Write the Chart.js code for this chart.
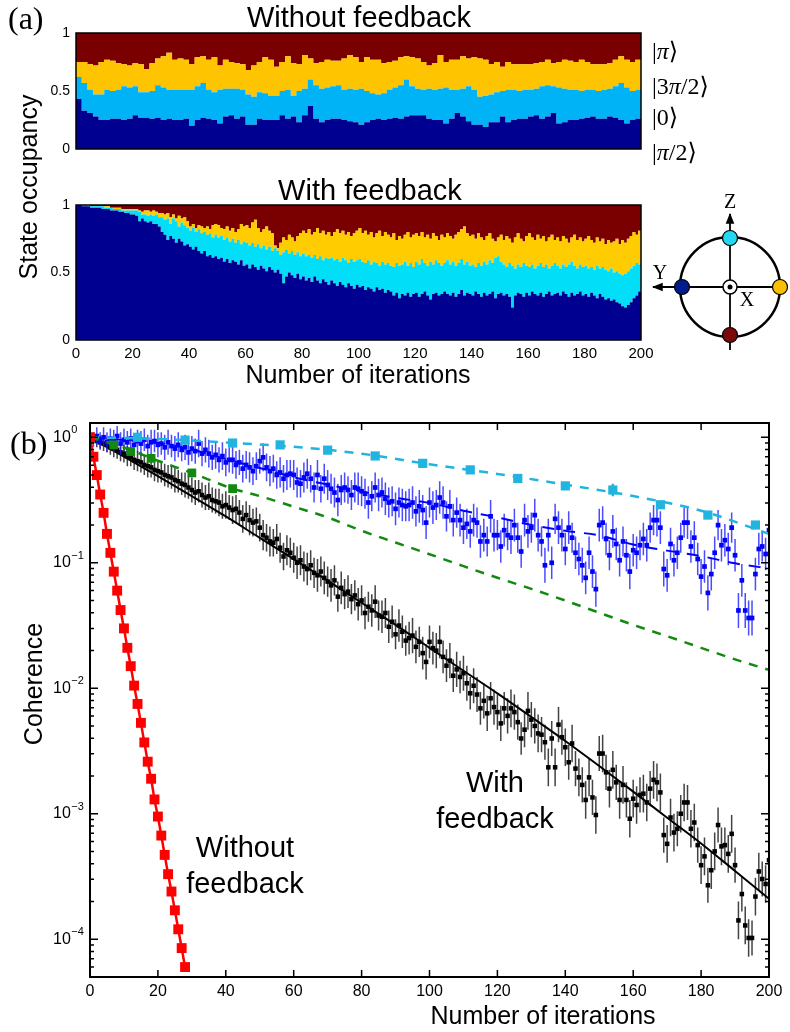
<!DOCTYPE html>
<html>
<head>
<meta charset="utf-8">
<script src="https://cdn.jsdelivr.net/npm/chart.js@4.4.0/dist/chart.umd.min.js"></script>
<style>
  body { margin: 0; background: #fff; }
  #page { position: relative; width: 790px; height: 1032px; overflow: hidden; font-family: "Liberation Sans", Arial, sans-serif; color: #000; }
  canvas { position: absolute; }
  .lbl { position: absolute; white-space: nowrap; line-height: 1; }
  .serif { font-family: "Liberation Serif", "DejaVu Serif", serif; }
  .rot { transform: translate(-50%, -50%) rotate(-90deg); }
  .note { position: absolute; width: 200px; text-align: center; font-size: 29px; line-height: 36px; }
</style>
</head>
<body>
<div id="page">
  <canvas id="noFbChart" width="660" height="180" style="left:0;top:0"></canvas>
  <canvas id="fbChart" width="660" height="180" style="left:0;top:190px"></canvas>
  <canvas id="cohChart" width="790" height="632" style="left:0;top:400px"></canvas>

  <div class="lbl serif" style="left:8px;top:2px;font-size:32px">(a)</div>
  <div class="lbl" style="left:359px;top:3px;font-size:29px;transform:translateX(-50%)">Without feedback</div>
  <div class="lbl" style="left:370px;top:176px;font-size:29px;transform:translateX(-50%)">With feedback</div>
  <div class="lbl" style="left:358px;top:362px;font-size:25px;transform:translateX(-50%)">Number of iterations</div>
  <div class="lbl rot" style="left:28px;top:187px;font-size:25px">State occupancy</div>

  <div class="lbl serif" style="left:652px;top:39px;font-size:24px">|<i>π</i>⟩</div>
  <div class="lbl serif" style="left:652px;top:74px;font-size:24px">|3<i>π</i>/2⟩</div>
  <div class="lbl serif" style="left:652px;top:105px;font-size:24px">|0⟩</div>
  <div class="lbl serif" style="left:652px;top:140px;font-size:24px">|<i>π</i>/2⟩</div>

  <div class="lbl serif" style="left:10px;top:427px;font-size:32px">(b)</div>
  <div class="lbl rot" style="left:33px;top:684px;font-size:25px">Coherence</div>
  <div class="lbl" style="left:543px;top:1003px;font-size:25px;transform:translateX(-50%)">Number of iterations</div>
  <div class="note" style="left:395px;top:764px">With<br>feedback</div>
  <div class="note" style="left:145px;top:829px">Without<br>feedback</div>

  <svg width="790" height="400" style="position:absolute;left:0;top:0">
    <defs>
      <marker id="ah" viewBox="0 0 10 10" refX="9" refY="5" markerWidth="6" markerHeight="6" orient="auto">
        <path d="M0,1 L10,5 L0,9 z" fill="#000"/>
      </marker>
    </defs>
    <circle cx="730" cy="287" r="50" fill="none" stroke="#000" stroke-width="2.5"/>
    <line x1="730" y1="350" x2="730" y2="214" stroke="#000" stroke-width="1.8" marker-end="url(#ah)"/>
    <line x1="788" y1="287" x2="653" y2="287" stroke="#000" stroke-width="1.8" marker-end="url(#ah)"/>
    <circle cx="730" cy="287" r="7" fill="#fff" stroke="#000" stroke-width="1.5"/>
    <circle cx="730" cy="287" r="2.5" fill="#000"/>
    <circle cx="730" cy="238" r="7.5" fill="#22d8f2" stroke="#000" stroke-width="1.2"/>
    <circle cx="780" cy="287" r="7.5" fill="#f8c000" stroke="#000" stroke-width="1.2"/>
    <circle cx="682" cy="287" r="7.5" fill="#001c8c" stroke="#000" stroke-width="1.2"/>
    <circle cx="730" cy="335" r="7.5" fill="#7a0a0a" stroke="#000" stroke-width="1.2"/>
    <text x="730" y="208" font-family="Liberation Serif, serif" font-size="20" text-anchor="middle">Z</text>
    <text x="660" y="279" font-family="Liberation Serif, serif" font-size="20" text-anchor="middle">Y</text>
    <text x="747" y="306" font-family="Liberation Serif, serif" font-size="20" text-anchor="middle">X</text>
  </svg>
</div>

<script>
// ---------- panel (a): cumulative state occupancy ----------
// each array is the top edge of a band; |pi> (dark red) fills up to 1
const noFbBinWidth = 2;
const noFbPiHalf = [
  0.43,0.33,0.31,0.28,0.25,0.25,0.26,0.26,0.25,0.26, 0.29,0.27,0.27,0.26,0.27,0.25,0.26,0.25,0.25,0.26,
  0.20,0.25,0.27,0.26,0.25,0.22,0.28,0.29,0.26,0.28, 0.21,0.21,0.26,0.25,0.25,0.25,0.29,0.26,0.28,0.23,
  0.29,0.37,0.26,0.23,0.25,0.26,0.26,0.25,0.24,0.23, 0.21,0.23,0.25,0.26,0.25,0.26,0.27,0.26,0.28,0.29,
  0.29,0.29,0.26,0.25,0.25,0.22,0.26,0.31,0.28,0.24, 0.21,0.21,0.19,0.23,0.23,0.28,0.23,0.25,0.26,0.26,
  0.28,0.29,0.26,0.28,0.31,0.22,0.23,0.25,0.25,0.26, 0.27,0.28,0.26,0.26,0.28,0.27,0.25,0.22,0.25,0.26
];
const noFbZero = [
  0.62,0.57,0.51,0.47,0.47,0.51,0.50,0.51,0.54,0.53, 0.54,0.49,0.49,0.50,0.55,0.53,0.51,0.51,0.51,0.51,
  0.51,0.54,0.57,0.51,0.49,0.51,0.52,0.52,0.52,0.51, 0.47,0.45,0.49,0.48,0.46,0.46,0.50,0.51,0.46,0.50,
  0.52,0.60,0.55,0.52,0.53,0.54,0.55,0.51,0.52,0.51, 0.52,0.50,0.48,0.47,0.48,0.51,0.53,0.55,0.60,0.54,
  0.52,0.51,0.52,0.51,0.52,0.53,0.51,0.51,0.52,0.54, 0.51,0.45,0.46,0.47,0.49,0.50,0.51,0.51,0.50,0.51,
  0.51,0.52,0.54,0.55,0.54,0.53,0.52,0.51,0.51,0.50, 0.51,0.51,0.50,0.51,0.52,0.54,0.57,0.53,0.50,0.51
];
const noFbThreePiHalf = [
  0.75,0.75,0.73,0.72,0.75,0.77,0.76,0.74,0.73,0.72, 0.74,0.73,0.69,0.74,0.78,0.80,0.83,0.77,0.78,0.77,
  0.73,0.79,0.80,0.77,0.79,0.72,0.77,0.75,0.74,0.73, 0.68,0.72,0.75,0.79,0.77,0.71,0.75,0.80,0.74,0.73,
  0.81,0.78,0.74,0.75,0.77,0.76,0.76,0.78,0.81,0.79, 0.75,0.79,0.77,0.77,0.74,0.75,0.76,0.79,0.80,0.79,
  0.78,0.75,0.72,0.74,0.81,0.75,0.77,0.77,0.80,0.78, 0.79,0.78,0.77,0.73,0.75,0.71,0.75,0.73,0.73,0.73,
  0.73,0.74,0.75,0.77,0.74,0.75,0.77,0.76,0.75,0.77, 0.75,0.73,0.73,0.73,0.74,0.77,0.80,0.77,0.75,0.77
];

const fbBinWidth = 1;
const fbPiHalf = [
  1.00,1.00,0.99,0.99,0.99,0.98,0.98,0.98,0.98,0.97, 0.97,0.97,0.96,0.96,0.96,0.95,0.95,0.94,0.94,0.93,
  0.93,0.92,0.88,0.90,0.88,0.87,0.88,0.86,0.86,0.84, 0.80,0.78,0.74,0.77,0.75,0.72,0.75,0.73,0.70,0.71,
  0.69,0.67,0.69,0.66,0.64,0.66,0.62,0.63,0.61,0.62, 0.60,0.61,0.58,0.60,0.57,0.59,0.58,0.56,0.59,0.55,
  0.56,0.53,0.56,0.54,0.52,0.55,0.53,0.51,0.54,0.52, 0.50,0.52,0.49,0.42,0.47,0.50,0.48,0.46,0.49,0.45,
  0.47,0.44,0.46,0.43,0.47,0.44,0.42,0.45,0.43,0.41, 0.44,0.42,0.40,0.43,0.41,0.39,0.42,0.40,0.38,0.41,
  0.39,0.40,0.37,0.39,0.38,0.36,0.39,0.37,0.38,0.35, 0.37,0.36,0.33,0.35,0.31,0.34,0.33,0.35,0.32,0.34,
  0.35,0.32,0.34,0.36,0.33,0.30,0.34,0.35,0.33,0.34, 0.36,0.34,0.33,0.35,0.32,0.34,0.37,0.33,0.35,0.34,
  0.33,0.36,0.34,0.32,0.35,0.33,0.34,0.36,0.31,0.34, 0.35,0.33,0.34,0.32,0.24,0.33,0.35,0.34,0.32,0.35,
  0.33,0.36,0.34,0.33,0.35,0.32,0.34,0.36,0.33,0.34, 0.35,0.33,0.36,0.34,0.32,0.35,0.33,0.34,0.36,0.33,
  0.34,0.32,0.35,0.33,0.31,0.34,0.32,0.30,0.31,0.29, 0.30,0.28,0.27,0.25,0.24,0.26,0.28,0.31,0.33,0.36
];
const fbZero = [
  1.00,1.00,1.00,1.00,0.99,0.99,0.99,0.99,0.99,0.99, 0.98,0.98,0.98,0.97,0.97,0.97,0.96,0.96,0.96,0.96,
  0.96,0.96,0.95,0.93,0.93,0.92,0.93,0.92,0.93,0.91, 0.91,0.89,0.90,0.86,0.90,0.88,0.84,0.87,0.85,0.83,
  0.81,0.83,0.80,0.82,0.79,0.80,0.78,0.79,0.76,0.78, 0.76,0.77,0.74,0.76,0.73,0.75,0.72,0.74,0.71,0.73,
  0.72,0.70,0.72,0.69,0.71,0.68,0.70,0.67,0.69,0.66, 0.68,0.66,0.63,0.65,0.67,0.64,0.66,0.63,0.65,0.62,
  0.64,0.62,0.63,0.61,0.63,0.60,0.62,0.59,0.61,0.60, 0.61,0.59,0.60,0.58,0.61,0.59,0.57,0.60,0.58,0.59,
  0.60,0.58,0.57,0.59,0.56,0.58,0.57,0.55,0.58,0.56, 0.57,0.55,0.54,0.57,0.55,0.56,0.58,0.55,0.57,0.54,
  0.58,0.56,0.60,0.57,0.55,0.58,0.56,0.59,0.57,0.55, 0.57,0.59,0.56,0.58,0.55,0.57,0.60,0.56,0.58,0.55,
  0.56,0.54,0.57,0.55,0.58,0.56,0.59,0.57,0.61,0.62, 0.58,0.56,0.54,0.57,0.55,0.53,0.56,0.54,0.57,0.55,
  0.54,0.56,0.53,0.55,0.57,0.54,0.56,0.53,0.55,0.57, 0.55,0.53,0.56,0.54,0.56,0.58,0.55,0.53,0.56,0.54,
  0.55,0.53,0.54,0.52,0.55,0.53,0.54,0.52,0.51,0.53, 0.50,0.51,0.49,0.48,0.49,0.51,0.53,0.55,0.57,0.56
];
const fbThreePiHalf = [
  1.00,1.00,1.00,1.00,1.00,0.99,0.99,0.99,0.99,0.99, 0.99,0.99,0.98,0.98,0.98,0.98,0.97,0.97,0.97,0.97,
  0.97,0.97,0.96,0.95,0.96,0.96,0.95,0.96,0.95,0.94, 0.94,0.93,0.94,0.91,0.93,0.90,0.92,0.90,0.91,0.88,
  0.84,0.86,0.83,0.85,0.84,0.83,0.84,0.82,0.85,0.86, 0.85,0.83,0.82,0.84,0.81,0.83,0.80,0.82,0.86,0.84,
  0.85,0.83,0.87,0.89,0.83,0.80,0.82,0.84,0.81,0.79, 0.70,0.68,0.72,0.76,0.74,0.78,0.76,0.73,0.77,0.79,
  0.81,0.79,0.82,0.78,0.80,0.83,0.79,0.81,0.78,0.80, 0.77,0.80,0.82,0.79,0.81,0.78,0.80,0.77,0.79,0.81,
  0.83,0.79,0.81,0.78,0.80,0.76,0.79,0.81,0.77,0.80, 0.78,0.76,0.79,0.74,0.77,0.75,0.78,0.80,0.76,0.78,
  0.79,0.77,0.80,0.76,0.78,0.75,0.79,0.77,0.74,0.78, 0.76,0.79,0.77,0.75,0.78,0.80,0.82,0.84,0.79,0.77,
  0.78,0.75,0.79,0.76,0.74,0.77,0.79,0.75,0.73,0.76, 0.78,0.74,0.77,0.75,0.72,0.76,0.79,0.75,0.73,0.77,
  0.79,0.76,0.74,0.78,0.75,0.77,0.73,0.76,0.78,0.74, 0.76,0.73,0.77,0.75,0.72,0.76,0.78,0.74,0.76,0.73,
  0.75,0.77,0.74,0.72,0.76,0.73,0.75,0.71,0.74,0.72, 0.73,0.75,0.71,0.74,0.72,0.75,0.77,0.80,0.78,0.81
];
const occTickStep = 0.5;
const iterTicks = [0, 20, 40, 60, 80, 100, 120, 140, 160, 180, 200];

// ---------- panel (b): coherence ----------
// data points with error bars are kept as log10 values (+/- half width in decades)
const blackLog = [
  0.00,
  -0.01,-0.03,-0.04,-0.05,-0.06,-0.08,-0.09,-0.10,-0.12,-0.13, -0.15,-0.16,-0.18,-0.19,-0.20,-0.22,-0.23,-0.24,-0.26,-0.27,
  -0.28,-0.30,-0.31,-0.32,-0.34,-0.35,-0.37,-0.38,-0.40,-0.42, -0.44,-0.43,-0.46,-0.48,-0.47,-0.50,-0.51,-0.52,-0.55,-0.54,
  -0.56,-0.58,-0.57,-0.60,-0.65,-0.62,-0.66,-0.68,-0.67,-0.72, -0.78,-0.80,-0.83,-0.84,-0.81,-0.88,-0.95,-0.90,-0.92,-0.96,
  -1.00,-0.98,-1.03,-1.05,-1.02,-1.08,-1.10,-1.07,-1.12,-1.15, -1.18,-1.14,-1.27,-1.20,-1.25,-1.23,-1.29,-1.26,-1.33,-1.30,
  -1.40,-1.35,-1.38,-1.31,-1.42,-1.43,-1.40,-1.51,-1.47,-1.57, -1.50,-1.55,-1.62,-1.60,-1.58,-1.67,-1.63,-1.72,-1.79,-1.63,
  -1.68,-1.70,-1.63,-1.75,-1.82,-1.78,-1.90,-1.85,-1.91,-1.88, -1.96,-2.04,-1.98,-2.05,-2.16,-2.10,-2.20,-2.08,-2.15,-2.19,
  -2.28,-2.16,-2.22,-2.16,-2.19,-2.27,-2.40,-2.33,-2.18,-2.25, -2.30,-2.36,-2.37,-2.43,-2.63,-2.40,-2.63,-2.29,-2.39,-2.47,
  -2.59,-2.44,-2.64,-2.71,-2.77,-2.89,-2.71,-2.87,-3.01,-2.52, -2.52,-2.67,-2.80,-2.65,-2.75,-2.89,-2.77,-2.89,-3.04,-2.88,
  -2.93,-2.85,-2.84,-2.91,-2.80,-2.73,-2.75,-2.83,-3.17,-3.24, -3.03,-3.15,-3.12,-3.00,-2.91,-2.91,-3.12,-3.07,-3.25,-3.41,
  -3.34,-3.57,-3.45,-3.30,-3.09,-3.26,-3.25,-3.32,-3.16,-3.41, -3.85,-3.64,-3.89,-3.99,-3.99,-3.66,-3.46,-3.52,-3.56,-3.37
];
const blackErr = [
  0.03,
  0.04,0.05,0.05,0.06,0.06,0.06,0.07,0.07,0.07,0.07, 0.08,0.07,0.08,0.08,0.08,0.08,0.09,0.08,0.09,0.09,
  0.08,0.09,0.09,0.09,0.10,0.09,0.09,0.10,0.09,0.10, 0.10,0.09,0.10,0.10,0.11,0.10,0.10,0.11,0.10,0.11,
  0.10,0.11,0.11,0.10,0.11,0.11,0.12,0.11,0.11,0.11, 0.12,0.11,0.12,0.11,0.12,0.12,0.11,0.12,0.12,0.12,
  0.13,0.12,0.12,0.13,0.12,0.12,0.13,0.12,0.13,0.12, 0.13,0.12,0.12,0.13,0.12,0.13,0.12,0.12,0.13,0.12,
  0.13,0.12,0.13,0.13,0.12,0.13,0.12,0.13,0.13,0.12, 0.13,0.13,0.12,0.13,0.14,0.13,0.12,0.13,0.14,0.13,
  0.13,0.14,0.13,0.13,0.13,0.14,0.13,0.14,0.13,0.14, 0.14,0.13,0.14,0.14,0.13,0.14,0.14,0.13,0.14,0.14,
  0.14,0.13,0.14,0.15,0.14,0.14,0.13,0.14,0.15,0.14, 0.14,0.15,0.14,0.14,0.15,0.14,0.15,0.14,0.14,0.15,
  0.14,0.15,0.14,0.15,0.14,0.15,0.15,0.14,0.15,0.14, 0.15,0.14,0.15,0.15,0.14,0.15,0.15,0.14,0.15,0.15,
  0.15,0.14,0.15,0.15,0.14,0.15,0.15,0.15,0.14,0.15, 0.15,0.15,0.14,0.15,0.15,0.14,0.15,0.15,0.14,0.15,
  0.15,0.14,0.15,0.15,0.14,0.15,0.14,0.15,0.15,0.14, 0.15,0.14,0.15,0.15,0.14,0.15,0.15,0.14,0.15,0.15
];
const blueLog = [
  0.00,
  -0.02,0.01,-0.03,0.00,-0.04,-0.01,-0.03,0.01,-0.05,-0.02, -0.04,-0.01,-0.06,-0.03,-0.05,-0.02,-0.07,-0.04,-0.03,-0.06,
  -0.05,-0.08,-0.04,-0.07,-0.09,-0.06,-0.10,-0.08,-0.12,-0.09, -0.11,-0.05,-0.13,-0.10,-0.13,-0.16,-0.14,-0.18,-0.15,-0.20,
  -0.18,-0.18,-0.22,-0.20,-0.25,-0.22,-0.24,-0.27,-0.23,-0.19, -0.16,-0.24,-0.27,-0.25,-0.30,-0.28,-0.33,-0.30,-0.29,-0.30,
  -0.36,-0.37,-0.32,-0.29,-0.33,-0.40,-0.30,-0.41,-0.33,-0.38, -0.41,-0.44,-0.50,-0.42,-0.40,-0.42,-0.46,-0.40,-0.41,-0.43,
  -0.45,-0.52,-0.47,-0.40,-0.46,-0.44,-0.49,-0.52,-0.51,-0.57, -0.52,-0.54,-0.55,-0.54,-0.52,-0.59,-0.55,-0.58,-0.68,-0.52,
  -0.56,-0.54,-0.48,-0.52,-0.63,-0.55,-0.66,-0.60,-0.66,-0.72, -0.69,-0.75,-0.66,-0.68,-0.83,-0.78,-0.83,-0.63,-0.78,-0.78,
  -0.87,-0.74,-0.78,-0.80,-0.70,-0.80,-0.91,-0.66,-0.75,-0.72, -0.62,-0.78,-0.83,-1.02,-0.78,-1.00,-0.65,-0.72,-0.78,-0.89,
  -0.72,-0.80,-0.92,-0.97,-1.02,-1.12,-0.92,-1.07,-1.21,-0.70, -0.68,-0.81,-0.94,-0.75,-0.85,-0.98,-0.83,-0.94,-1.07,-0.90,
  -0.92,-0.86,-0.81,-0.86,-0.72,-0.66,-0.66,-0.72,-1.05,-1.10, -0.85,-0.98,-0.92,-0.80,-0.68,-0.68,-0.87,-0.80,-0.97,-1.11,
  -1.03,-1.24,-1.09,-0.92,-0.70,-0.86,-0.82,-0.89,-0.72,-0.94, -1.38,-1.14,-1.38,-1.44,-1.44,-1.09,-0.89,-0.87,-0.93,-0.74
];
const blueErr = [
  0.05,
  0.06,0.07,0.07,0.08,0.08,0.08,0.09,0.08,0.09,0.09, 0.09,0.08,0.09,0.09,0.10,0.09,0.09,0.10,0.09,0.10,
  0.09,0.10,0.10,0.09,0.10,0.10,0.09,0.10,0.10,0.10, 0.10,0.11,0.10,0.10,0.11,0.10,0.11,0.10,0.11,0.11,
  0.10,0.11,0.11,0.10,0.11,0.11,0.12,0.11,0.11,0.10, 0.11,0.11,0.12,0.11,0.11,0.12,0.11,0.12,0.11,0.12,
  0.12,0.11,0.12,0.12,0.11,0.12,0.12,0.11,0.12,0.12, 0.12,0.12,0.13,0.12,0.12,0.11,0.12,0.12,0.13,0.12,
  0.12,0.13,0.12,0.12,0.13,0.12,0.13,0.12,0.12,0.13, 0.12,0.13,0.12,0.13,0.13,0.12,0.13,0.12,0.13,0.12,
  0.13,0.12,0.13,0.13,0.12,0.13,0.13,0.12,0.13,0.13, 0.12,0.13,0.13,0.12,0.13,0.13,0.12,0.13,0.13,0.12,
  0.13,0.13,0.12,0.13,0.13,0.12,0.13,0.13,0.13,0.12, 0.13,0.13,0.12,0.14,0.13,0.13,0.12,0.13,0.13,0.13,
  0.13,0.12,0.13,0.13,0.14,0.13,0.13,0.13,0.14,0.13, 0.13,0.13,0.12,0.13,0.13,0.13,0.12,0.13,0.14,0.13,
  0.13,0.12,0.13,0.13,0.12,0.12,0.13,0.13,0.14,0.13, 0.13,0.13,0.13,0.12,0.12,0.13,0.13,0.13,0.13,0.14,
  0.13,0.14,0.13,0.13,0.12,0.13,0.13,0.13,0.12,0.13, 0.14,0.13,0.14,0.14,0.14,0.13,0.13,0.12,0.13,0.13
];

// fit / model curves and sparse data, plain coherence values
const blackFitX = [0, 10, 20, 30, 40, 50, 60, 70, 80, 90, 100, 110, 120, 130, 140, 150, 160, 170, 180, 190, 200];
const blackFit = [1.0, 0.70, 0.49, 0.34, 0.234, 0.158, 0.107, 0.072, 0.048, 0.032, 0.021,
                  0.0138, 0.0091, 0.0059, 0.0038, 0.0024, 0.0015, 0.00093, 0.00058, 0.00035, 0.00021];
const blueTrendX = [0, 10, 20, 30, 40, 50, 60, 70, 80, 90, 100, 110, 120, 130, 140, 150, 160, 170, 180, 190, 200];
const blueTrend = [1.0, 0.95, 0.90, 0.80, 0.67, 0.57, 0.48, 0.42, 0.37, 0.33, 0.30,
                   0.26, 0.23, 0.20, 0.18, 0.165, 0.14, 0.125, 0.113, 0.099, 0.09];
const cyanX = [0, 14, 28, 42, 56, 70, 84, 98, 112, 126, 140, 154, 168, 182, 196];
const cyanVals = [1.0, 1.0, 0.95, 0.90, 0.87, 0.79, 0.71, 0.62, 0.55, 0.47, 0.41, 0.38, 0.29, 0.24, 0.20];
const cyanErr = [0.01, 0.01, 0.01, 0.01, 0.01, 0.01, 0.01, 0.01, 0.01, 0.01, 0.02, 0.05, 0.03, 0.02, 0.03];
const cyanLineX = [0, 20, 40, 60, 80, 100, 120, 140, 160, 180, 200];
const cyanLine = [1.0, 0.97, 0.91, 0.84, 0.74, 0.61, 0.51, 0.42, 0.34, 0.26, 0.17];
const greenX = [0, 7, 12, 18, 30, 42];
const greenVals = [1.0, 0.87, 0.77, 0.68, 0.52, 0.39];
const greenLineX = [0, 10, 20, 30, 42, 50, 60, 70, 80, 90, 100, 110, 120, 130, 140, 150, 160, 170, 180, 190, 200];
const greenLine = [1.0, 0.83, 0.65, 0.52, 0.39, 0.34, 0.28, 0.23, 0.18, 0.145, 0.117,
                   0.094, 0.076, 0.062, 0.05, 0.04, 0.032, 0.026, 0.021, 0.017, 0.014];
const redX = [0, 1, 2, 3, 4, 5, 6, 7, 8, 9, 10, 11, 12, 13, 14, 15, 16, 17, 18, 19, 20, 21, 22, 23, 24, 25, 26, 27, 28];
const redVals = [1.0, 0.70, 0.50, 0.35, 0.25, 0.17, 0.12, 0.085, 0.060, 0.042, 0.030, 0.021, 0.015, 0.0105, 0.0075,
                 0.0053, 0.0037, 0.0026, 0.0019, 0.0013, 0.00095, 0.00067, 0.00047, 0.00033, 0.00024, 0.00017,
                 0.00012, 0.000085, 0.00006];
const cohMin = 5e-5;
const cohMax = 1.3;
const cohTickExps = [0, -1, -2, -3, -4];

const FONT = '"Liberation Sans", Arial, sans-serif';
Chart.defaults.font.family = FONT;
Chart.defaults.color = '#000';

const baseOptions = {
    responsive: false,
    animation: false,
    devicePixelRatio: 1,
    events: [],
    plugins: { legend: { display: false }, tooltip: { enabled: false } }
};

// Helper: histogram bins as a stepped line (value i holds from bin start to next bin)
function stepData(vals, w) {
    const pts = vals.map((v, i) => ({ x: i * w, y: v }));
    pts.push({ x: vals.length * w, y: vals[vals.length - 1] });
    return pts;
}

function occupancyDatasets(piHalf, zero, threePiHalf, w, colors) {
    const base = { stepped: 'before', pointRadius: 0, borderWidth: 0, borderColor: 'transparent' };
    return [
        { ...base, data: stepData(piHalf, w), backgroundColor: colors[0], fill: 'origin' },
        { ...base, data: stepData(zero, w), backgroundColor: colors[1], fill: '-1' },
        { ...base, data: stepData(threePiHalf, w), backgroundColor: colors[2], fill: '-1' },
        { ...base, data: stepData(threePiHalf, w), backgroundColor: colors[3], fill: 'end' }
    ];
}

const boxFrame = {
    id: 'boxFrame',
    afterDatasetsDraw(chart, args, opts) {
        const { ctx, chartArea: a } = chart;
        ctx.save();
        ctx.strokeStyle = '#000';
        ctx.lineWidth = opts.width || 1;
        ctx.strokeRect(a.left, a.top, a.right - a.left, a.bottom - a.top);
        ctx.restore();
    }
};

function occupancyChart(id, datasets, showX, padding) {
    return new Chart(document.getElementById(id), {
        type: 'line',
        data: { datasets: datasets },
        plugins: [boxFrame],
        options: {
            ...baseOptions,
            layout: { padding: padding },
            plugins: { ...baseOptions.plugins, boxFrame: { width: 1.5 } },
            scales: {
                x: {
                    type: 'linear', min: 0, max: 200, display: showX,
                    grid: { display: false, drawTicks: false },
                    border: { display: false },
                    ticks: { stepSize: 20, padding: 5, maxRotation: 0, font: { size: 15 } },
                    afterFit: (s) => { s.height = 22; }
                },
                y: {
                    min: 0, max: 1,
                    grid: { display: false, drawTicks: false },
                    border: { display: false },
                    ticks: { stepSize: occTickStep, padding: 6, font: { size: 14 },
                             callback: (v) => String(v) },
                    afterFit: (s) => { s.width = 76; }
                }
            }
        }
    });
}

occupancyChart('noFbChart',
    occupancyDatasets(noFbPiHalf, noFbZero, noFbThreePiHalf, noFbBinWidth,
        ['#000090', '#00b2f6', '#ffc400', '#7a0000']),
    false, { left: 0, top: 33, right: 19, bottom: 9 });

occupancyChart('fbChart',
    occupancyDatasets(fbPiHalf, fbZero, fbThreePiHalf, fbBinWidth,
        ['#000090', '#00def8', '#ffcc00', '#7a0000']),
    true, { left: 0, top: 15, right: 19, bottom: 8 });

// ---------- panel (b) ----------
function xy(xs, ys) {
    return ys.map((v, i) => ({ x: xs[i], y: v }));
}
function fromLog(vals) {
    return vals.map((v, i) => ({ x: i, y: Math.pow(10, v) }));
}
// vertical error bars as separate segments (null breaks the line)
function errorSegments(xs, logs, errs) {
    const pts = [];
    logs.forEach((v, i) => {
        pts.push({ x: xs[i], y: Math.pow(10, v - errs[i]) });
        pts.push({ x: xs[i], y: Math.pow(10, v + errs[i]) });
        pts.push({ x: xs[i], y: null });
    });
    return pts;
}
const blackX = blackLog.map((v, i) => i);
const blueX = blueLog.map((v, i) => i);
const cyanLog = cyanVals.map(v => Math.log10(v));

const logFrame = {
    id: 'logFrame',
    afterDatasetsDraw(chart) {
        const { ctx, chartArea: a, scales: { x, y } } = chart;
        ctx.save();
        ctx.strokeStyle = '#000';
        ctx.lineWidth = 1.5;
        ctx.beginPath();
        iterTicks.forEach(v => {
            const px = x.getPixelForValue(v);
            ctx.moveTo(px, a.bottom); ctx.lineTo(px, a.bottom - 7);
            ctx.moveTo(px, a.top); ctx.lineTo(px, a.top + 7);
        });
        for (let e = -5; e <= 0; e++) {
            for (let m = 1; m <= 9; m++) {
                const v = m * Math.pow(10, e);
                if (v < cohMin || v > cohMax) continue;
                const py = y.getPixelForValue(v);
                const len = m === 1 ? 8 : 4;
                ctx.moveTo(a.left, py); ctx.lineTo(a.left + len, py);
                ctx.moveTo(a.right, py); ctx.lineTo(a.right - len, py);
            }
        }
        ctx.stroke();
        ctx.lineWidth = 2;
        ctx.strokeRect(a.left, a.top, a.right - a.left, a.bottom - a.top);

        // decade labels 10^n
        ctx.fillStyle = '#000';
        ctx.textAlign = 'left';
        ctx.textBaseline = 'middle';
        cohTickExps.forEach(p => {
            const py = y.getPixelForValue(Math.pow(10, p));
            ctx.font = '16px ' + FONT;
            ctx.fillText('10', 53, py);
            const w = ctx.measureText('10').width;
            ctx.font = '11px ' + FONT;
            ctx.fillText(p === 0 ? '0' : '\u2212' + (-p), 53 + w + 0.5, py - 7);
        });
        ctx.restore();
    }
};

const pts = (color, r) => ({
    showLine: false, pointStyle: 'rect', pointRadius: r,
    pointBackgroundColor: color, pointBorderWidth: 0, borderColor: color
});
const bars = (color) => ({
    pointRadius: 0, borderColor: color, borderWidth: 1.5, spanGaps: false, borderCapStyle: 'butt'
});
const curve = (color, width, dash) => ({
    pointRadius: 0, borderColor: color, borderWidth: width, borderDash: dash || [], cubicInterpolationMode: 'monotone'
});

new Chart(document.getElementById('cohChart'), {
    type: 'line',
    data: {
        datasets: [
            { ...curve('#ff0000', 2.5), data: xy(redX, redVals), pointStyle: 'rect', pointRadius: 7,
              pointBackgroundColor: '#ff0000', pointBorderWidth: 0 },
            { ...pts('#128a12', 6.2), data: xy(greenX, greenVals) },
            { ...curve('#128a12', 2.5, [9, 8]), data: xy(greenLineX, greenLine) },
            { ...pts('#20b4de', 6.5), data: xy(cyanX, cyanVals) },
            { ...bars('#20b4de'), borderWidth: 2.5, data: errorSegments(cyanX, cyanLog, cyanErr) },
            { ...curve('#20b4de', 2.5, [9, 8]), data: xy(cyanLineX, cyanLine) },
            { ...pts('#0000ff', 3.3), data: fromLog(blueLog) },
            { ...curve('#0000ff', 2, [12, 9]), data: xy(blueTrendX, blueTrend) },
            { ...bars('rgba(30,30,255,0.8)'), data: errorSegments(blueX, blueLog, blueErr) },
            { ...pts('#000000', 3.2), data: fromLog(blackLog) },
            { ...curve('#000000', 2), data: xy(blackFitX, blackFit) },
            { ...bars('rgba(20,20,20,0.8)'), data: errorSegments(blackX, blackLog, blackErr) }
        ]
    },
    plugins: [logFrame],
    options: {
        ...baseOptions,
        layout: { padding: { left: 0, top: 23, right: 21, bottom: 25 } },
        scales: {
            x: {
                type: 'linear', min: 0, max: 200,
                grid: { display: false, drawTicks: false },
                border: { display: false },
                ticks: { stepSize: 20, padding: 5, maxRotation: 0, font: { size: 16 } },
                afterFit: (s) => { s.height = 30; }
            },
            y: {
                type: 'logarithmic', min: cohMin, max: cohMax,
                grid: { display: false, drawTicks: false },
                border: { display: false },
                ticks: { display: false },
                afterFit: (s) => { s.width = 90; }
            }
        }
    }
});
</script>
</body>
</html>
